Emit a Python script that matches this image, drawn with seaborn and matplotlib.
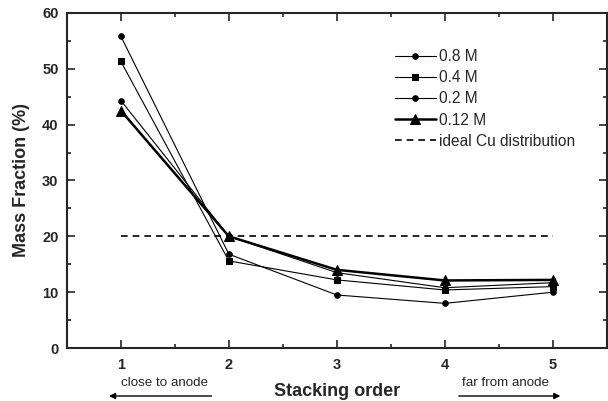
import matplotlib
matplotlib.use("Agg")
import matplotlib.pyplot as plt
import seaborn as sns
import pandas as pd
from matplotlib.ticker import MultipleLocator

stacking = [1, 2, 3, 4, 5]
series_labels = ["0.8 M", "0.4 M", "0.2 M", "0.12 M"]
v08 = [55.8, 16.8, 9.5, 8.0, 10.0]
v04 = [51.3, 15.6, 12.2, 10.4, 11.0]
v02 = [44.3, 20.0, 13.5, 10.8, 11.7]
v012 = [42.5, 20.0, 14.0, 12.1, 12.2]
ideal_x = [1, 5]
ideal_y = [20, 20]

sns.set_theme(style="ticks")
plt.rcParams['font.family'] = ['Liberation Sans', 'DejaVu Sans']

fig = plt.figure(figsize=(6.08, 4.01), dpi=100)
ax = fig.add_axes([0.110, 0.132, 0.888, 0.836])

markers = ["o", "s", "o", "^"]
sizes = [4, 4, 4, 6.5]
lws = [0.8, 0.8, 0.8, 1.8]
for lab, vals, m, ms, lw in zip(series_labels, [v08, v04, v02, v012], markers, sizes, lws):
    df = pd.DataFrame({"x": stacking, "y": vals})
    sns.lineplot(data=df, x="x", y="y", ax=ax, color="black", marker=m,
                 markersize=ms, linewidth=lw, markeredgecolor="black", label=lab)

dfi = pd.DataFrame({"x": ideal_x, "y": ideal_y})
sns.lineplot(data=dfi, x="x", y="y", ax=ax, color="black", linestyle=(0, (4, 3)),
             linewidth=1.2, label="ideal Cu distribution")

ax.set_xlim(0.5, 5.5)
ax.set_ylim(0, 60)
ax.xaxis.set_major_locator(MultipleLocator(1))
ax.xaxis.set_minor_locator(MultipleLocator(0.5))
ax.yaxis.set_major_locator(MultipleLocator(10))
ax.yaxis.set_minor_locator(MultipleLocator(5))
ax.tick_params(which="both", direction="in", top=True, right=True, width=1.2)
ax.tick_params(which="major", length=6, labelsize=10.5)
ax.tick_params(axis="x", which="major", pad=7)
ax.tick_params(axis="y", which="major", pad=6)
ax.tick_params(which="minor", length=3)
for lbl in ax.get_xticklabels() + ax.get_yticklabels():
    lbl.set_fontweight("bold")
for s in ax.spines.values():
    s.set_linewidth(1.5)

ax.set_xlabel("Stacking order", fontsize=13, fontweight="bold", labelpad=8)
ax.set_ylabel("Mass Fraction (%)", fontsize=13, fontweight="bold", labelpad=9)

leg = ax.legend(loc="upper left", bbox_to_anchor=(0.582, 0.934), frameon=False,
                fontsize=11.2, handlelength=2.6, labelspacing=0.4, handletextpad=0.25)

# annotations below axis
ax.annotate("", xy=(0.89, -0.143), xytext=(1.84, -0.143), xycoords=("data", "axes fraction"),
            textcoords=("data", "axes fraction"),
            arrowprops=dict(arrowstyle="-|>", color="black", lw=1.0, mutation_scale=9,
                            shrinkA=0, shrinkB=0),
            annotation_clip=False)
ax.text(1.40, -0.105, "close to anode", transform=ax.get_xaxis_transform(),
        ha="center", va="center", fontsize=9.6)
ax.annotate("", xy=(5.07, -0.143), xytext=(4.13, -0.143), xycoords=("data", "axes fraction"),
            textcoords=("data", "axes fraction"),
            arrowprops=dict(arrowstyle="-|>", color="black", lw=1.0, mutation_scale=9,
                            shrinkA=0, shrinkB=0),
            annotation_clip=False)
ax.text(4.56, -0.105, "far from anode", transform=ax.get_xaxis_transform(),
        ha="center", va="center", fontsize=9.6)

fig.savefig("out.png", dpi=100)
